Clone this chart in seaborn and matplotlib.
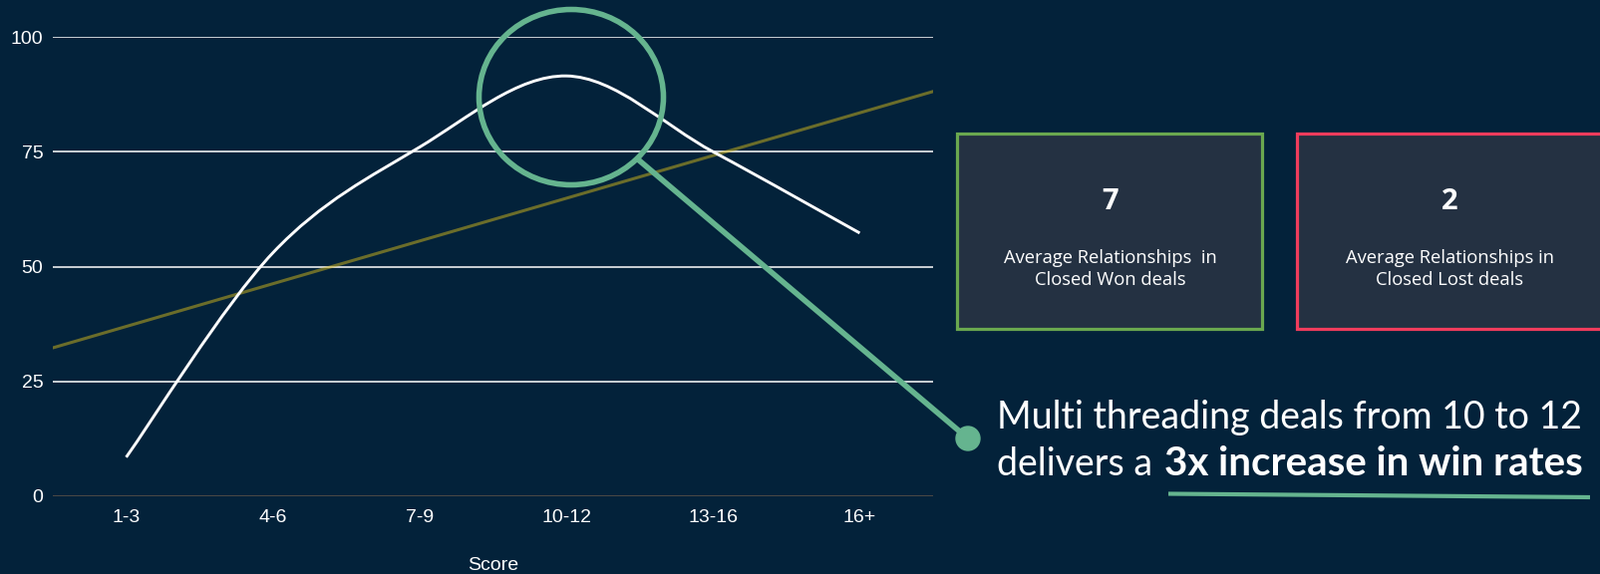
import numpy as np
import pandas as pd
import matplotlib
matplotlib.use("Agg")
import matplotlib.pyplot as plt
import seaborn as sns
from matplotlib.path import Path
from matplotlib.patches import PathPatch, Rectangle, Ellipse, Circle

# ---- data -------------------------------------------------------------
score_bands = ["1-3", "4-6", "7-9", "10-12", "13-16", "16+"]
win_rate = [8.5, 53, 76, 91.5, 75, 57.3]
y_ticks = [0, 25, 50, 75, 100]

won_value = "7"
won_label = "Average Relationships  in\nClosed Won deals"
lost_value = "2"
lost_label = "Average Relationships in\nClosed Lost deals"
headline_1 = "Multi threading deals from 10 to 12"
headline_2a = "delivers a"
headline_2b = "3x increase in win rates"
x_title = "Score"

# ---- style ------------------------------------------------------------
BG = "#03223a"
CARD = "#243142"
GREEN = "#65b48f"
WON = "#6aa84f"
LOST = "#f03c5c"
TREND = "#d4b81c"
W, H = 1606, 576

sns.set_style("dark", {"axes.facecolor": BG, "figure.facecolor": BG})
plt.rcParams["font.family"] = ["Liberation Sans", "DejaVu Sans"]

fig = plt.figure(figsize=(W / 100, H / 100), dpi=100, facecolor=BG)
ax = fig.add_axes([53 / W, (H - 498) / H, (936 - 53) / W, (498 - 37) / H])
ax.set_facecolor(BG)
ax.set_xlim(-0.5, len(score_bands) - 0.5)
ax.set_ylim(0, 100)

df = pd.DataFrame({"pos": np.arange(len(score_bands)),
                   "band": score_bands,
                   "win_rate": win_rate})

# linear trend across the full axis width
sns.regplot(data=df, x="pos", y="win_rate", scatter=False, ci=None,
            truncate=False, ax=ax, color=TREND,
            line_kws=dict(lw=2.2, alpha=0.5, zorder=3))


def smooth_path(xs, ys, k=1 / 6):
    """Cubic Bezier path passing through every point (Catmull-Rom tangents)."""
    pts = np.column_stack([xs, ys]).astype(float)
    n = len(pts)
    verts, codes = [pts[0]], [Path.MOVETO]
    for i in range(n - 1):
        p0, p1 = pts[max(i - 1, 0)], pts[i]
        p2, p3 = pts[i + 1], pts[min(i + 2, n - 1)]
        verts += [p1 + (p2 - p0) * k, p2 - (p3 - p1) * k, p2]
        codes += [Path.CURVE4] * 3
    return Path(verts, codes)


ax.add_patch(PathPatch(smooth_path(df["pos"], df["win_rate"]), fill=False,
                       ec="white", lw=2.1, zorder=4, capstyle="butt"))

ax.set_xticks(df["pos"], score_bands)
ax.set_yticks(y_ticks, [str(v) for v in y_ticks])
ax.grid(axis="y", color="white", lw=1.1, zorder=1)
ax.grid(axis="x", visible=False)
ax.axhline(0, color="#3d3a36", lw=1.3, zorder=2)
for s in ax.spines.values():
    s.set_visible(False)
ax.tick_params(axis="both", length=0, colors="white", labelsize=14)
ax.tick_params(axis="x", pad=9)
ax.tick_params(axis="y", pad=7)
ax.set_xlabel(x_title, color="white", fontsize=14, labelpad=23)
ax.set_ylabel("")

# ---- overlay in pixel coordinates --------------------------------------
ov = fig.add_axes([0, 0, 1, 1], zorder=5)
ov.set_xlim(0, W)
ov.set_ylim(H, 0)
ov.axis("off")
ov.patch.set_alpha(0)

# magnifier callout
ov.add_patch(Ellipse((573, 97.5), 185, 176, fill=False, ec=GREEN, lw=4))
ov.plot([640, 971], [160, 440], color=GREEN, lw=4, solid_capstyle="butt")
ov.add_patch(Circle((971, 440), 12, color=GREEN))

# summary cards
cards = [(959, WON, won_value, won_label), (1300, LOST, lost_value, lost_label)]
for x0, edge, value, label in cards:
    ov.add_patch(Rectangle((x0 + 1.5, 133.5), 306, 196, fc=CARD, ec=edge, lw=2.3))
    cx = x0 + 154.5
    ov.text(cx, 202, value, ha="center", va="center", color="white",
            fontsize=21, fontweight="bold", family=["Open Sans", "DejaVu Sans"])
    ov.text(cx, 270, label, ha="center", va="center", color="white",
            fontsize=13.2, linespacing=1.25, family=["Open Sans", "DejaVu Sans"])

# headline
hfont = ["Lato", "DejaVu Sans"]
ov.text(1000, 430, headline_1, ha="left", va="baseline", color="white",
        fontsize=27, fontweight="normal", family=hfont)
t2a = ov.text(1000, 477, headline_2a, ha="left", va="baseline", color="white",
              fontsize=27, fontweight="normal", family=hfont)
ov.annotate(headline_2b, xy=(1, 0), xycoords=t2a, xytext=(12, 0),
            textcoords="offset pixels", ha="left", va="bottom", color="white",
            fontsize=29, fontweight="bold", family=hfont)
ov.plot([1172, 1595], [495.5, 499], color=GREEN, lw=3, solid_capstyle="butt")

fig.savefig("out.png", dpi=100, facecolor=BG)
